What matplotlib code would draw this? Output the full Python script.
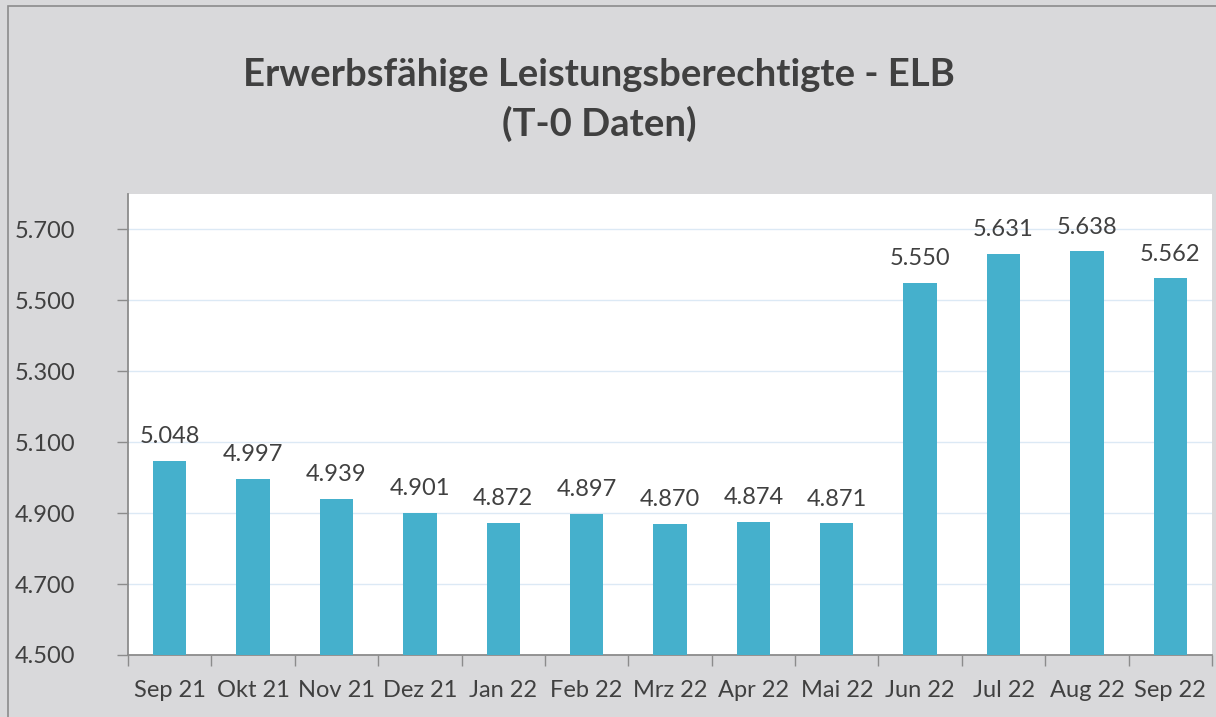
import matplotlib
matplotlib.use("Agg")
import matplotlib.pyplot as plt
from matplotlib.patches import Rectangle
import numpy as np

months = ["Sep 21", "Okt 21", "Nov 21", "Dez 21", "Jan 22", "Feb 22", "Mrz 22",
          "Apr 22", "Mai 22", "Jun 22", "Jul 22", "Aug 22", "Sep 22"]
elb = [5.048, 4.997, 4.939, 4.901, 4.872, 4.897, 4.870,
       4.874, 4.871, 5.550, 5.631, 5.638, 5.562]
yticks = [4.5, 4.7, 4.9, 5.1, 5.3, 5.5, 5.7]

bg = "#d9d9db"
text_col = "#404040"
bar_col = "#45b0cc"

plt.rcParams["font.family"] = ["Lato", "DejaVu Sans"]

fig = plt.figure(figsize=(12.16, 7.17), dpi=100, facecolor=bg)
fig.patches.append(Rectangle((8 / 1216, -0.1), 1.2, 1 - 6 / 717 + 0.1,
                             transform=fig.transFigure, facecolor="none",
                             edgecolor="#8c8c8c", linewidth=1.2))
ax = fig.add_axes([128 / 1216, 62 / 717, 1084 / 1216, 461 / 717])
ax.set_facecolor("white")

x = np.arange(len(months))
bars = ax.bar(x, elb, width=0.4, color=bar_col, zorder=3)
for xi, v in zip(x, elb):
    ax.annotate("{:.3f}".format(v), (xi, v), xytext=(0, 10), textcoords="offset points",
                ha="center", va="bottom", fontsize=17, color=text_col)

ax.set_xlim(-0.5, len(months) - 0.5)
ax.set_ylim(4.5, 5.8)
ax.set_yticks(yticks)
ax.set_yticklabels(["{:.3f}".format(t) for t in yticks], fontsize=17, color=text_col)
ax.tick_params(axis="y", length=8, width=1, color="#8c8c8c", pad=30)
ax.set_xticks(x)
ax.set_xticklabels(months, fontsize=17, color=text_col)
ax.set_xticks(np.arange(len(months) + 1) - 0.5, minor=True)
ax.tick_params(axis="x", which="major", length=0, pad=18)
ax.tick_params(axis="x", which="minor", length=8, width=1, color="#8c8c8c")
ax.grid(axis="y", color="#dce9f5", linewidth=1, zorder=0)
for side in ["top", "right"]:
    ax.spines[side].set_visible(False)
for side in ["left", "bottom"]:
    ax.spines[side].set_color("#8c8c8c")
    ax.spines[side].set_linewidth(1.3)

fig.text(599 / 1216, 1 - 100 / 717, "Erwerbsfähige Leistungsberechtigte - ELB\n(T-0 Daten)",
         ha="center", va="center", fontsize=27.5, fontweight="bold", color=text_col,
         linespacing=1.45)

fig.savefig("out.png", dpi=100, facecolor=bg)
